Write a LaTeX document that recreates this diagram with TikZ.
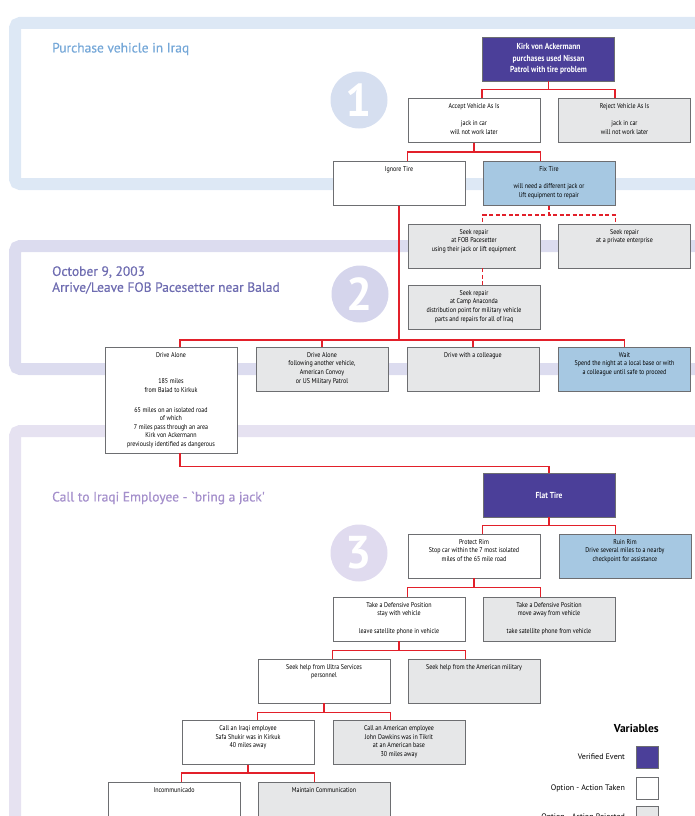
\documentclass[tikz,border=0pt]{standalone}
\usepackage{fontspec}
\setmainfont{PT Sans}
\newfontfamily\condfont{PT Sans}[FakeStretch=0.86]
\newfontfamily\titlefont{PT Sans}[FakeBold=0.5]
\usetikzlibrary{positioning}
\definecolor{verified}{HTML}{4B3F99}
\definecolor{rejected}{HTML}{E6E7E8}
\definecolor{altblue}{HTML}{A6C8E2}
\definecolor{boxline}{HTML}{6D6E71}
\definecolor{linkred}{HTML}{E2202A}
\definecolor{frameone}{HTML}{DDE8F5}
\definecolor{frametwo}{HTML}{DCDCEF}
\definecolor{framethree}{HTML}{E6E2F1}
\definecolor{circleone}{HTML}{D6DFF0}
\definecolor{circletwo}{HTML}{D5D5EC}
\definecolor{circlethree}{HTML}{E0DBEF}
\definecolor{titleone}{HTML}{76A8D8}
\definecolor{titletwo}{HTML}{6F6DB1}
\definecolor{titlethree}{HTML}{A48FCB}
\tikzset{
  plainbox/.style={draw=boxline, line width=0.8pt, minimum width=132pt, minimum height=44pt, inner sep=0pt},
  takenbox/.style={plainbox, fill=white},
  rejectbox/.style={plainbox, fill=rejected},
  altbox/.style={plainbox, fill=altblue},
  eventbox/.style={plainbox, fill=verified, text=white, align=center, font=\condfont\bfseries\fontsize{8.7}{11.5}\selectfont},
  boxtext/.style={anchor=north, inner sep=0pt, yshift=-5.5pt, align=center, font=\condfont\fontsize{7}{8.6}\selectfont},
  link/.style={draw=linkred, line width=1.4pt},
  stageframe/.style={line width=12pt, rounded corners=5pt},
  stagenum/.style={circle, minimum size=57pt, inner sep=0pt, text=white, font=\bfseries\fontsize{46}{46}\selectfont},
  stagetitle/.style={anchor=west, align=left, inner sep=0pt, font=\titlefont\fontsize{13.5}{16}\selectfont},
  keytext/.style={font=\fontsize{8}{10}\selectfont, inner sep=0pt},
}

\begin{document}
\begin{tikzpicture}[x=1pt, y=-1pt]
\useasboundingbox (0,0) rectangle (695,816);
\clip (0,0) rectangle (695,816);

% stage frames
\draw[stageframe, draw=frameone] (15,23) rectangle (720,184);
\draw[stageframe, draw=frametwo] (15,246) rectangle (720,369);
\draw[stageframe, draw=framethree] (15,431) rectangle (720,850);

% stage numbers and titles
\node[stagenum, fill=circleone] (numone) at (359,100) {1};
\node[stagenum, fill=circletwo] (numtwo) at (360,294) {2};
\node[stagenum, fill=circlethree] (numthree) at (359,553) {3};
\node[stagetitle, text=titleone] (titleone) at (52,49) {Purchase vehicle in Iraq};
\node[stagetitle, text=titletwo] (titletwo) at (52,280) {October 9, 2003\\Arrive/Leave FOB Pacesetter near Balad};
\node[stagetitle, text=titlethree] (titlethree) at (52,498) {Call to Iraqi Employee - `bring a jack'};

% stage 1
\node[eventbox] (kirk) at (548.5,59) {Kirk von Ackermann\\purchases used Nissan\\Patrol with tire problem};
\node[takenbox, label={[boxtext]north:{Accept Vehicle As Is\\[8.6pt]jack in car\\will not work later}}] (accept) at (474,120.5) {};
\node[rejectbox, label={[boxtext]north:{Reject Vehicle As Is\\[8.6pt]jack in car\\will not work later}}] (reject) at (624.5,120.5) {};
\node[takenbox, label={[boxtext]north:{Ignore Tire}}] (ignore) at (399,183.5) {};
\node[altbox, label={[boxtext]north:{Fix Tire\\[8.6pt]will need a different jack or\\lift equipment to repair}}] (fix) at (549,183.5) {};

% stage 2
\node[rejectbox, label={[boxtext]north:{Seek repair\\at FOB Pacesetter\\using their jack or lift equipment}}] (fob) at (474,246) {};
\node[rejectbox, label={[boxtext]north:{Seek repair\\at a private enterprise}}] (private) at (624.5,246) {};
\node[rejectbox, label={[boxtext]north:{Seek repair\\at Camp Anaconda\\distribution point for military vehicle\\parts and repairs for all of Iraq}}] (anaconda) at (474,307) {};
\node[takenbox, minimum height=106pt, label={[boxtext]north:{Drive Alone\\[18pt]185 miles\\from Balad to Kirkuk\\[11pt]65 miles on an isolated road\\of which\\7 miles pass through an area\\Kirk von Ackermann\\previously identified as dangerous}}] (alone) at (171,400) {};
\node[rejectbox, label={[boxtext]north:{Drive Alone\\following another vehicle,\\American Convoy\\or US Military Patrol}}] (follow) at (322,369) {};
\node[rejectbox, label={[boxtext]north:{Drive with a colleague}}] (colleague) at (473,369) {};
\node[altbox, label={[boxtext]north:{Wait\\Spend the night at a local base or with\\a colleague until safe to proceed}}] (wait) at (624.5,369) {};

% stage 3
\node[eventbox] (flat) at (549,495) {Flat Tire};
\node[takenbox, label={[boxtext]north:{Protect Rim\\Stop car within the 7 most isolated\\miles of the 65 mile road}}] (protect) at (474,556) {};
\node[altbox, label={[boxtext]north:{Ruin Rim\\Drive several miles to a nearby\\checkpoint for assistance}}] (ruin) at (625,556) {};
\node[takenbox, label={[boxtext]north:{Take a Defensive Position\\stay with vehicle\\[8.6pt]leave satellite phone in vehicle}}] (stay) at (399,619) {};
\node[rejectbox, label={[boxtext]north:{Take a Defensive Position\\move away from vehicle\\[8.6pt]take satellite phone from vehicle}}] (move) at (549,619) {};
\node[takenbox, label={[boxtext]north:{Seek help from Ultra Services\\personnel}}] (ultra) at (324,681) {};
\node[rejectbox, label={[boxtext]north:{Seek help from the American military}}] (military) at (474,681) {};
\node[takenbox, label={[boxtext]north:{Call an Iraqi employee\\Safa Shukir was in Kirkuk\\40 miles away}}] (iraqi) at (248,742.5) {};
\node[rejectbox, label={[boxtext]north:{Call an American employee\\John Dawkins was in Tikrit\\at an American base\\30 miles away}}] (american) at (399,742.5) {};
\node[takenbox, label={[boxtext]north:{Incommunicado}}] (incomm) at (174,804) {};
\node[rejectbox, label={[boxtext]north:{Maintain Communication}}] (maintain) at (324,804) {};

% connectors
\draw[link] (kirk.south) -- ++(0,8) -| (kirk.west |- accept.north);
\draw[link] (kirk.south) -- ++(0,8) -| (kirk.east |- reject.north);
\draw[link] (accept.south) -- ++(0,9) -| (accept.west |- ignore.north);
\draw[link] (accept.south) -- ++(0,9) -| (accept.east |- fix.north);
\draw[link, dashed, dash pattern=on 4pt off 2.5pt] (fix.south) -- ++(0,9) -| (fix.west |- fob.north);
\draw[link, dashed, dash pattern=on 4pt off 2.5pt] (fix.south) -- ++(0,9) -| (fix.east |- private.north);
\draw[link, dashed, dash pattern=on 4pt off 2.5pt] (fix.west |- fob.south) -- (fix.west |- anaconda.north);
\coordinate (drivebar) at (399,340);
\draw[link] (ignore.south) -- (drivebar);
\draw[link] (drivebar) -| ([xshift=9pt]alone.north);
\draw[link] (drivebar) -| (follow.north);
\draw[link] (drivebar) -| (colleague.north);
\draw[link] (drivebar) -| (wait.north);
\draw[link] ([xshift=9pt]alone.south) -- ++(0,13) -| (flat.north);
\draw[link] (flat.south) -- ++(0,8) -| (flat.west |- protect.north);
\draw[link] (flat.south) -- ++(0,8) -| (flat.east |- ruin.north);
\draw[link] (protect.south) -- ++(0,9) -| (protect.west |- stay.north);
\draw[link] (protect.south) -- ++(0,9) -| (protect.east |- move.north);
\draw[link] (stay.south) -- ++(0,9) -| (stay.west |- ultra.north);
\draw[link] (stay.south) -- ++(0,9) -| (stay.east |- military.north);
\draw[link] (ultra.south) -- ++(0,9) -| (ultra.west |- iraqi.north);
\draw[link] (ultra.south) -- ++(0,9) -| (ultra.east |- american.north);
\draw[link] (iraqi.south) -- ++(0,8) -| (iraqi.west |- incomm.north);
\draw[link] (iraqi.south) -- ++(0,8) -| (iraqi.east |- maintain.north);

% legend
\node[anchor=east, inner sep=0pt, font=\bfseries\fontsize{11.5}{14}\selectfont] (vartitle) at (659,728) {Variables};
\node[plainbox, fill=verified, minimum width=22pt, minimum height=22pt] (keyverified) at (647.5,757) {};
\node[plainbox, fill=white, minimum width=22pt, minimum height=22pt] (keytaken) at (647.5,788) {};
\node[plainbox, fill=rejected, minimum width=22pt, minimum height=22pt] (keyrejected) at (647.5,817) {};
\node[keytext, left=11pt of keyverified] (textverified) {Verified Event};
\node[keytext, left=11pt of keytaken] (texttaken) {Option - Action Taken};
\node[keytext, left=11pt of keyrejected] (textrejected) {Option - Action Rejected};
\end{tikzpicture}
\end{document}
